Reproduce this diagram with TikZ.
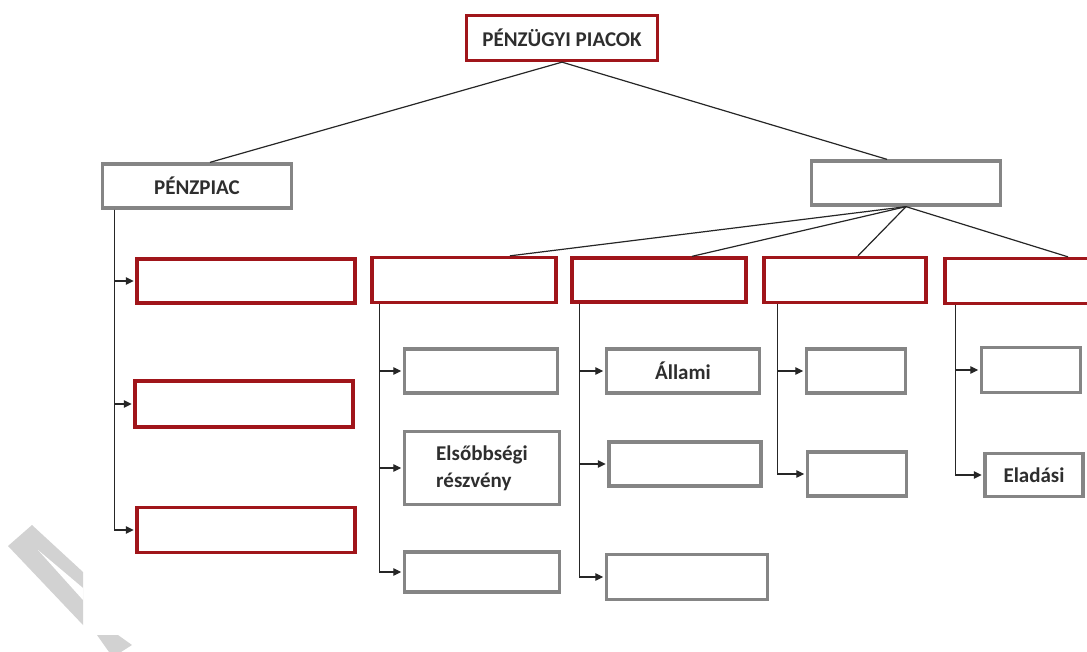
\documentclass[tikz,border=0pt]{standalone}
\usepackage{fontspec}
\setmainfont{Carlito}
\usetikzlibrary{calc}
\usetikzlibrary{arrows.meta}
\definecolor{boxred}{HTML}{A0151A}
\definecolor{boxgrey}{HTML}{858585}
\definecolor{marklight}{HTML}{D2D2D2}
\tikzset{
	every node/.style={
		font=\bfseries\fontsize{21}{27}\selectfont,
		text=black!82,
		align=left,
	},
	redbox/.style={
		draw=boxred,
		line width=3.3pt,
		rectangle,
		inner sep=0pt,
	},
	greybox/.style={
		draw=boxgrey,
		line width=3.3pt,
		rectangle,
		inner sep=0pt,
	},
	link/.style={
		line width=1.2pt,
		black!85,
	},
	feed/.style={
		line width=1.2pt,
		black!85,
		shorten >=1.6pt,
		-{Triangle[length=8pt,width=7.5pt]}
	},
}

\begin{document}
\begin{tikzpicture}[x=1pt,y=-1pt]
		\useasboundingbox (0,0) rectangle (1087,652);

		% faint mark in the corner
		\fill[marklight] (8,546) -- (32,525) -- (83,572) -- (83,625) -- cycle;
		\fill[white] (38,550) -- (83,588) -- (83,600) -- cycle;
		\fill[marklight] (97,635) -- (118,635) -- (132,645) -- (121,652) -- (109,652) -- cycle;

		\node[redbox, minimum width=191, minimum height=45]  (piacok) at (562,38) {PÉNZÜGYI PIACOK};
		\node[greybox, minimum width=189, minimum height=44] (penzpiac) at (197,186) {PÉNZPIAC};
		\node[greybox, minimum width=189, minimum height=44] (tokepiac) at (906,183) {};

		\node[redbox, minimum width=218, minimum height=44] (pp1) at (246,281) {};
		\node[redbox, minimum width=218, minimum height=46] (pp2) at (244,404) {};
		\node[redbox, minimum width=218, minimum height=45] (pp3) at (246,530) {};

		\node[redbox, minimum width=184, minimum height=45] (tp1) at (464,280) {};
		\node[redbox, minimum width=174, minimum height=44] (tp2) at (659,280) {};
		\node[redbox, minimum width=162, minimum height=45] (tp3) at (845,280) {};
		\node[redbox, minimum width=162, minimum height=45] (tp4) at (1026,281) {};

		\node[greybox, minimum width=153, minimum height=44] (tp1a) at (481,371) {};
		\node[greybox, minimum width=155, minimum height=73] (tp1b) at (482,468) {Elsőbbségi\\részvény};
		\node[greybox, minimum width=155, minimum height=40] (tp1c) at (482,572) {};

		\node[greybox, minimum width=153, minimum height=44] (tp2a) at (683,371) {Állami};
		\node[greybox, minimum width=152, minimum height=44] (tp2b) at (685,464) {};
		\node[greybox, minimum width=161, minimum height=45] (tp2c) at (687,577) {};

		\node[greybox, minimum width=99, minimum height=44] (tp3a) at (856,371) {};
		\node[greybox, minimum width=99, minimum height=44] (tp3b) at (857,474) {};

		\node[greybox, minimum width=99, minimum height=45] (tp4a) at (1031,370) {};
		\node[greybox, minimum width=98, minimum height=43]  (tp4b) at (1034,475) {Eladási};

		\draw[link] (piacok.south) -- ($(penzpiac.north)+(13,0)$);
		\draw[link] (piacok.south) -- ($(tokepiac.north)+(-19,0)$);

		\draw[link] (tokepiac.south) -- ($(tp1.north)+(46,0)$);
		\draw[link] (tokepiac.south) -- ($(tp2.north)+(33,0)$);
		\draw[link] (tokepiac.south) -- ($(tp3.north)+(13,0)$);
		\draw[link] (tokepiac.south) -- ($(tp4.north)+(42,0)$);

		\coordinate (ppbus) at ($(penzpiac.south west)+(14,0)$);
		\draw[feed] (ppbus) |- (pp1.west);
		\draw[feed] (ppbus) |- (pp2.west);
		\draw[feed] (ppbus) |- (pp3.west);

		\coordinate (tp1bus) at ($(tp1.south west)+(9.5,0)$);
		\draw[feed] (tp1bus) |- (tp1a.west);
		\draw[feed] (tp1bus) |- (tp1b.west);
		\draw[feed] (tp1bus) |- (tp1c.west);

		\coordinate (tp2bus) at ($(tp2.south west)+(9.5,0)$);
		\draw[feed] (tp2bus) |- (tp2a.west);
		\draw[feed] (tp2bus) |- (tp2b.west);
		\draw[feed] (tp2bus) |- (tp2c.west);

		\coordinate (tp3bus) at ($(tp3.south west)+(15.5,0)$);
		\draw[feed] (tp3bus) |- (tp3a.west);
		\draw[feed] (tp3bus) |- (tp3b.west);

		\coordinate (tp4bus) at ($(tp4.south west)+(12.5,0)$);
		\draw[feed] (tp4bus) |- (tp4a.west);
		\draw[feed] (tp4bus) |- (tp4b.west);

	\end{tikzpicture}
\end{document}
